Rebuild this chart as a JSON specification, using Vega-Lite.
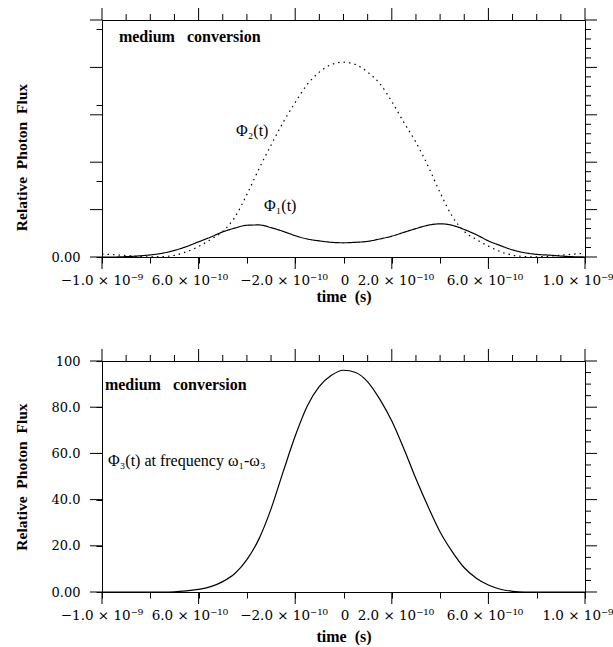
{
  "$schema": "https://vega.github.io/schema/vega-lite/v6.json",
  "padding": {"left": 13, "top": 7, "right": 0, "bottom": 0},
  "spacing": 43,
  "config": {
    "view": {"stroke": "black", "strokeWidth": 1},
    "axis": {"domainColor": "black", "tickColor": "black", "domainWidth": 1, "grid": false,
      "labelFont": "DejaVu Serif", "labelFontSize": 13, "labelColor": "black",
      "titleFont": "Liberation Serif", "titleFontWeight": "bold", "titleColor": "black",
      "labelOverlap": false, "labelFlush": false, "zindex": 1},
    "text": {"color": "black"},
    "tick": {"color": "black", "opacity": 1, "thickness": 1}
  },
  "datasets": {
    "top_flux": [
      {"t": -1.00e-9, "phi1": 0, "phi2": 3},
      {"t": -0.95e-9, "phi1": 0, "phi2": 2.4},
      {"t": -0.90e-9, "phi1": 0.4, "phi2": 1.5},
      {"t": -0.85e-9, "phi1": 1.1, "phi2": 0.6},
      {"t": -0.80e-9, "phi1": 2.2, "phi2": 0.2},
      {"t": -0.75e-9, "phi1": 4, "phi2": 0.4},
      {"t": -0.70e-9, "phi1": 7, "phi2": 1.8},
      {"t": -0.65e-9, "phi1": 11, "phi2": 5.5},
      {"t": -0.60e-9, "phi1": 16, "phi2": 11},
      {"t": -0.55e-9, "phi1": 21, "phi2": 18.5},
      {"t": -0.50e-9, "phi1": 26.5, "phi2": 27},
      {"t": -0.45e-9, "phi1": 30.5, "phi2": 42},
      {"t": -0.40e-9, "phi1": 33.5, "phi2": 66},
      {"t": -0.35e-9, "phi1": 33.8, "phi2": 93},
      {"t": -0.30e-9, "phi1": 31, "phi2": 118},
      {"t": -0.25e-9, "phi1": 27, "phi2": 142},
      {"t": -0.20e-9, "phi1": 22.5, "phi2": 163},
      {"t": -0.15e-9, "phi1": 19, "phi2": 182},
      {"t": -0.10e-9, "phi1": 17, "phi2": 195},
      {"t": -0.05e-9, "phi1": 15.5, "phi2": 203},
      {"t": 0, "phi1": 15, "phi2": 205.5},
      {"t": 0.05e-9, "phi1": 15.5, "phi2": 203},
      {"t": 0.10e-9, "phi1": 16.5, "phi2": 195},
      {"t": 0.15e-9, "phi1": 19, "phi2": 183},
      {"t": 0.20e-9, "phi1": 22, "phi2": 164},
      {"t": 0.25e-9, "phi1": 26, "phi2": 142},
      {"t": 0.30e-9, "phi1": 30, "phi2": 121},
      {"t": 0.35e-9, "phi1": 33.5, "phi2": 96},
      {"t": 0.40e-9, "phi1": 35, "phi2": 68},
      {"t": 0.45e-9, "phi1": 33.5, "phi2": 43},
      {"t": 0.50e-9, "phi1": 29, "phi2": 27},
      {"t": 0.55e-9, "phi1": 23.5, "phi2": 18.5},
      {"t": 0.60e-9, "phi1": 17, "phi2": 11.5},
      {"t": 0.65e-9, "phi1": 12, "phi2": 5.5},
      {"t": 0.70e-9, "phi1": 7.5, "phi2": 2},
      {"t": 0.75e-9, "phi1": 4.5, "phi2": 0.5},
      {"t": 0.80e-9, "phi1": 2.8, "phi2": 0.2},
      {"t": 0.85e-9, "phi1": 2, "phi2": 0.8},
      {"t": 0.90e-9, "phi1": 1, "phi2": 1.8},
      {"t": 0.95e-9, "phi1": 0.3, "phi2": 3},
      {"t": 1.00e-9, "phi1": 0, "phi2": 4}
    ],
    "bottom_flux": [
      {"t": -1.00e-9, "phi3": 0},
      {"t": -0.95e-9, "phi3": 0},
      {"t": -0.90e-9, "phi3": 0},
      {"t": -0.85e-9, "phi3": 0},
      {"t": -0.80e-9, "phi3": 0},
      {"t": -0.75e-9, "phi3": 0},
      {"t": -0.70e-9, "phi3": 0.1},
      {"t": -0.65e-9, "phi3": 0.5},
      {"t": -0.60e-9, "phi3": 1.1},
      {"t": -0.55e-9, "phi3": 2.3},
      {"t": -0.50e-9, "phi3": 4.5},
      {"t": -0.45e-9, "phi3": 8},
      {"t": -0.40e-9, "phi3": 14},
      {"t": -0.35e-9, "phi3": 23},
      {"t": -0.30e-9, "phi3": 36},
      {"t": -0.25e-9, "phi3": 52},
      {"t": -0.20e-9, "phi3": 67.5},
      {"t": -0.15e-9, "phi3": 80.5},
      {"t": -0.10e-9, "phi3": 89},
      {"t": -0.05e-9, "phi3": 93.8},
      {"t": 0, "phi3": 96},
      {"t": 0.05e-9, "phi3": 95},
      {"t": 0.10e-9, "phi3": 91},
      {"t": 0.15e-9, "phi3": 83.5},
      {"t": 0.20e-9, "phi3": 74},
      {"t": 0.25e-9, "phi3": 62},
      {"t": 0.30e-9, "phi3": 49},
      {"t": 0.35e-9, "phi3": 37},
      {"t": 0.40e-9, "phi3": 26},
      {"t": 0.45e-9, "phi3": 17.5},
      {"t": 0.50e-9, "phi3": 10.5},
      {"t": 0.55e-9, "phi3": 6},
      {"t": 0.60e-9, "phi3": 3},
      {"t": 0.65e-9, "phi3": 1.2},
      {"t": 0.70e-9, "phi3": 0.3},
      {"t": 0.75e-9, "phi3": 0},
      {"t": 0.80e-9, "phi3": 0},
      {"t": 0.85e-9, "phi3": 0},
      {"t": 0.90e-9, "phi3": 0},
      {"t": 0.95e-9, "phi3": 0},
      {"t": 1.00e-9, "phi3": 0}
    ],
    "xlabels": [
      {"t": -1.0e-9, "label": "−1.0 × 10⁻⁹"},
      {"t": -0.636e-9, "label": "6.0 × 10⁻¹⁰"},
      {"t": -0.246e-9, "label": "−2.0 × 10⁻¹⁰"},
      {"t": 0.006e-9, "label": "0"},
      {"t": 0.217e-9, "label": "2.0 × 10⁻¹⁰"},
      {"t": 0.586e-9, "label": "6.0 × 10⁻¹⁰"},
      {"t": 0.971e-9, "label": "1.0 × 10⁻⁹"}
    ],
    "xminor": [
      {"t": -9e-10}, {"t": -8e-10}, {"t": -7e-10}, {"t": -5e-10}, {"t": -4e-10}, {"t": -3e-10},
      {"t": -1e-10}, {"t": 0}, {"t": 1e-10}, {"t": 3e-10}, {"t": 4e-10}, {"t": 5e-10},
      {"t": 7e-10}, {"t": 8e-10}, {"t": 9e-10}
    ],
    "xmajor": [
      {"t": -1e-9}, {"t": -6e-10}, {"t": -2e-10}, {"t": 2e-10}, {"t": 6e-10}, {"t": 1e-9}
    ],
    "ymajor_top": [{"v": 0}, {"v": 50}, {"v": 100}, {"v": 150}, {"v": 200}, {"v": 250}],
    "yminor_top": [
      {"v": 10}, {"v": 20}, {"v": 30}, {"v": 40}, {"v": 60}, {"v": 70}, {"v": 80}, {"v": 90},
      {"v": 110}, {"v": 120}, {"v": 130}, {"v": 140}, {"v": 160}, {"v": 170}, {"v": 180}, {"v": 190},
      {"v": 210}, {"v": 220}, {"v": 230}, {"v": 240}
    ],
    "ymajor_bottom": [{"v": 0}, {"v": 20}, {"v": 40}, {"v": 60}, {"v": 80}, {"v": 100}],
    "yminor_bottom": [
      {"v": 5}, {"v": 10}, {"v": 15}, {"v": 25}, {"v": 30}, {"v": 35}, {"v": 45}, {"v": 50},
      {"v": 55}, {"v": 65}, {"v": 70}, {"v": 75}, {"v": 85}, {"v": 90}, {"v": 95}
    ],
    "top_heading": [{"t": -0.93e-9, "v": 232, "label": "medium\u00a0\u00a0\u00a0conversion"}],
    "top_notes": [
      {"t": -0.445e-9, "v": 133, "label": "Φ₂(t)"},
      {"t": -0.329e-9, "v": 54, "label": "Φ₁(t)"}
    ],
    "bottom_heading": [{"t": -0.988e-9, "v": 89.7, "label": "medium\u00a0\u00a0\u00a0conversion"}],
    "bottom_notes": [{"t": -0.975e-9, "v": 56.5, "label": "Φ₃(t) at frequency ω₁-ω₃"}]
  },
  "vconcat": [
    {
      "width": 483,
      "height": 237,
      "layer": [
        {
          "data": {"name": "top_flux"},
          "transform": [{"fold": ["phi1", "phi2"], "as": ["series", "flux"]}],
          "mark": {"type": "line", "interpolate": "monotone", "color": "black", "strokeWidth": 1.2},
          "encoding": {
            "x": {"field": "t", "type": "quantitative",
              "scale": {"domain": [-1e-9, 1e-9], "nice": false, "zero": false},
              "axis": {"orient": "bottom",
                "values": [-1e-9, -9e-10, -8e-10, -7e-10, -6e-10, -5e-10, -4e-10, -3e-10, -2e-10, -1e-10, 0, 1e-10, 2e-10, 3e-10, 4e-10, 5e-10, 6e-10, 7e-10, 8e-10, 9e-10, 1e-9],
                "labels": false, "tickSize": 6,
                "title": "time\u00a0\u00a0(s)", "titleFontSize": 16, "titlePadding": 25}},
            "y": {"field": "flux", "type": "quantitative",
              "scale": {"domain": [0, 250], "nice": false, "zero": true},
              "axis": {"orient": "left",
                "values": [0, 10, 20, 30, 40, 50, 60, 70, 80, 90, 100, 110, 120, 130, 140, 150, 160, 170, 180, 190, 200, 210, 220, 230, 240, 250],
                "labelExpr": "datum.value % 50 === 0 ? (datum.value === 0 ? '0.00' : (datum.value < 100 ? format(datum.value, '.1f') : format(datum.value, 'd'))) : ''",
                "tickSize": 6, "labelPadding": 16,
                "title": "Relative\u00a0\u00a0Photon\u00a0\u00a0Flux", "titleFontSize": 15.5, "titlePadding": 22, "titleY": 137}},
            "strokeDash": {"field": "series", "type": "nominal",
              "scale": {"domain": ["phi1", "phi2"], "range": [[1, 0], [1.5, 4]]}, "legend": null}
          }
        },
        {
          "data": {"name": "top_notes"},
          "mark": {"type": "text", "align": "left", "baseline": "middle", "font": "Liberation Serif", "fontSize": 16},
          "encoding": {
            "x": {"field": "t", "type": "quantitative"},
            "y": {"field": "v", "type": "quantitative"},
            "text": {"field": "label"}
          }
        },
        {
          "data": {"name": "top_heading"},
          "mark": {"type": "text", "align": "left", "baseline": "middle", "font": "Liberation Serif", "fontSize": 16, "fontWeight": "bold"},
          "encoding": {
            "x": {"field": "t", "type": "quantitative"},
            "y": {"field": "v", "type": "quantitative"},
            "text": {"field": "label"}
          }
        },
        {
          "data": {"name": "xlabels"},
          "mark": {"type": "text", "align": "center", "baseline": "middle", "font": "DejaVu Serif", "fontSize": 13.5, "dy": 24},
          "encoding": {
            "x": {"field": "t", "type": "quantitative"},
            "y": {"datum": 0, "type": "quantitative"},
            "text": {"field": "label"}
          }
        },
        {
          "data": {"name": "xmajor"},
          "mark": {"type": "tick", "orient": "vertical", "size": 12, "yOffset": 6},
          "encoding": {
            "x": {"field": "t", "type": "quantitative"},
            "y": {"datum": 0, "type": "quantitative"}
          }
        },
        {
          "data": {"name": "xmajor"},
          "mark": {"type": "tick", "orient": "vertical", "size": 12, "yOffset": -6},
          "encoding": {
            "x": {"field": "t", "type": "quantitative"},
            "y": {"datum": 250, "type": "quantitative"}
          }
        },
        {
          "data": {"name": "xminor"},
          "mark": {"type": "tick", "orient": "vertical", "size": 6, "yOffset": -3},
          "encoding": {
            "x": {"field": "t", "type": "quantitative"},
            "y": {"datum": 250, "type": "quantitative"}
          }
        },
        {
          "data": {"name": "ymajor_top"},
          "mark": {"type": "tick", "orient": "horizontal", "size": 12, "xOffset": -6},
          "encoding": {
            "x": {"datum": -1e-9, "type": "quantitative"},
            "y": {"field": "v", "type": "quantitative"}
          }
        },
        {
          "data": {"name": "ymajor_top"},
          "mark": {"type": "tick", "orient": "horizontal", "size": 12, "xOffset": 6},
          "encoding": {
            "x": {"datum": 1e-9, "type": "quantitative"},
            "y": {"field": "v", "type": "quantitative"}
          }
        },
        {
          "data": {"name": "yminor_top"},
          "mark": {"type": "tick", "orient": "horizontal", "size": 6, "xOffset": 3},
          "encoding": {
            "x": {"datum": 1e-9, "type": "quantitative"},
            "y": {"field": "v", "type": "quantitative"}
          }
        }
      ]
    },
    {
      "width": 483,
      "height": 231,
      "layer": [
        {
          "data": {"name": "bottom_flux"},
          "mark": {"type": "line", "interpolate": "monotone", "color": "black", "strokeWidth": 1.2},
          "encoding": {
            "x": {"field": "t", "type": "quantitative",
              "scale": {"domain": [-1e-9, 1e-9], "nice": false, "zero": false},
              "axis": {"orient": "bottom",
                "values": [-1e-9, -9e-10, -8e-10, -7e-10, -6e-10, -5e-10, -4e-10, -3e-10, -2e-10, -1e-10, 0, 1e-10, 2e-10, 3e-10, 4e-10, 5e-10, 6e-10, 7e-10, 8e-10, 9e-10, 1e-9],
                "labels": false, "tickSize": 6,
                "title": "time\u00a0\u00a0(s)", "titleFontSize": 16, "titlePadding": 30}},
            "y": {"field": "phi3", "type": "quantitative",
              "scale": {"domain": [0, 100], "nice": false, "zero": true},
              "axis": {"orient": "left",
                "values": [0, 5, 10, 15, 20, 25, 30, 35, 40, 45, 50, 55, 60, 65, 70, 75, 80, 85, 90, 95, 100],
                "labelExpr": "datum.value % 20 === 0 ? (datum.value === 0 ? '0.00' : (datum.value < 100 ? format(datum.value, '.1f') : format(datum.value, 'd'))) : ''",
                "tickSize": 6, "labelPadding": 16,
                "title": "Relative\u00a0\u00a0Photon\u00a0\u00a0Flux", "titleFontSize": 15.5, "titlePadding": 22}}
          }
        },
        {
          "data": {"name": "bottom_notes"},
          "mark": {"type": "text", "align": "left", "baseline": "middle", "font": "Liberation Serif", "fontSize": 16},
          "encoding": {
            "x": {"field": "t", "type": "quantitative"},
            "y": {"field": "v", "type": "quantitative"},
            "text": {"field": "label"}
          }
        },
        {
          "data": {"name": "bottom_heading"},
          "mark": {"type": "text", "align": "left", "baseline": "middle", "font": "Liberation Serif", "fontSize": 16, "fontWeight": "bold"},
          "encoding": {
            "x": {"field": "t", "type": "quantitative"},
            "y": {"field": "v", "type": "quantitative"},
            "text": {"field": "label"}
          }
        },
        {
          "data": {"name": "xlabels"},
          "mark": {"type": "text", "align": "center", "baseline": "middle", "font": "DejaVu Serif", "fontSize": 13.5, "dy": 24},
          "encoding": {
            "x": {"field": "t", "type": "quantitative"},
            "y": {"datum": 0, "type": "quantitative"},
            "text": {"field": "label"}
          }
        },
        {
          "data": {"name": "xmajor"},
          "mark": {"type": "tick", "orient": "vertical", "size": 12, "yOffset": 6},
          "encoding": {
            "x": {"field": "t", "type": "quantitative"},
            "y": {"datum": 0, "type": "quantitative"}
          }
        },
        {
          "data": {"name": "xmajor"},
          "mark": {"type": "tick", "orient": "vertical", "size": 12, "yOffset": -6},
          "encoding": {
            "x": {"field": "t", "type": "quantitative"},
            "y": {"datum": 100, "type": "quantitative"}
          }
        },
        {
          "data": {"name": "xminor"},
          "mark": {"type": "tick", "orient": "vertical", "size": 6, "yOffset": -3},
          "encoding": {
            "x": {"field": "t", "type": "quantitative"},
            "y": {"datum": 100, "type": "quantitative"}
          }
        },
        {
          "data": {"name": "ymajor_bottom"},
          "mark": {"type": "tick", "orient": "horizontal", "size": 12, "xOffset": -6},
          "encoding": {
            "x": {"datum": -1e-9, "type": "quantitative"},
            "y": {"field": "v", "type": "quantitative"}
          }
        },
        {
          "data": {"name": "ymajor_bottom"},
          "mark": {"type": "tick", "orient": "horizontal", "size": 12, "xOffset": 6},
          "encoding": {
            "x": {"datum": 1e-9, "type": "quantitative"},
            "y": {"field": "v", "type": "quantitative"}
          }
        },
        {
          "data": {"name": "yminor_bottom"},
          "mark": {"type": "tick", "orient": "horizontal", "size": 6, "xOffset": 3},
          "encoding": {
            "x": {"datum": 1e-9, "type": "quantitative"},
            "y": {"field": "v", "type": "quantitative"}
          }
        }
      ]
    }
  ]
}
